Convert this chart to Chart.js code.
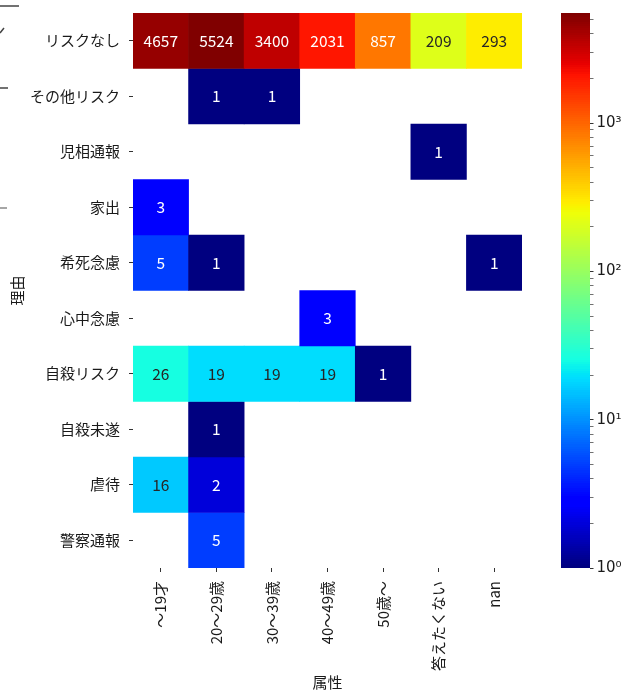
<!DOCTYPE html>
<html>
<head>
<meta charset="utf-8">
<script src="https://cdn.jsdelivr.net/npm/chart.js@4/dist/chart.umd.min.js"></script>
<style>
  html, body { margin: 0; padding: 0; background: #ffffff; }
</style>
</head>
<body>
<canvas id="heat" width="626" height="691"></canvas>
<script>
// Age groups (columns) and contact reasons (rows)
const ageGroups = ['〜19才', '20〜29歳', '30〜39歳', '40〜49歳', '50歳〜', '答えたくない', 'nan'];
const reasons = ['リスクなし', 'その他リスク', '児相通報', '家出', '希死念慮', '心中念慮', '自殺リスク', '自殺未遂', '虐待', '警察通報'];

// Counts per reason, one value per age group (null = no cases)
const noRisk        = [4657, 5524, 3400, 2031, 857, 209, 293];
const otherRisk     = [null, 1, 1, null, null, null, null];
const childWelfare  = [null, null, null, null, null, 1, null];
const runaway       = [3, null, null, null, null, null, null];
const deathWish     = [5, 1, null, null, null, null, 1];
const murderSuicide = [null, null, null, 3, null, null, null];
const suicideRisk   = [26, 19, 19, 19, 1, null, null];
const suicideTry    = [null, 1, null, null, null, null, null];
const abuse         = [16, 2, null, null, null, null, null];
const policeReport  = [null, 5, null, null, null, null, null];

const counts = [noRisk, otherRisk, childWelfare, runaway, deathWish,
                murderSuicide, suicideRisk, suicideTry, abuse, policeReport];

// Colour scale range (log) and its labelled decades
const scaleMin = 1;
const scaleMax = 5524;
const colorbarDecades = [1, 10, 100, 1000];

// ---- jet colour map ----
const jetSegments = {
  r: [[0, 0], [0.35, 0], [0.66, 1], [0.89, 1], [1, 0.5]],
  g: [[0, 0], [0.125, 0], [0.375, 1], [0.64, 1], [0.91, 0], [1, 0]],
  b: [[0, 0.5], [0.11, 1], [0.34, 1], [0.65, 0], [1, 0]]
};
function seg(points, t) {
  for (let i = 1; i < points.length; i++) {
    const [x0, y0] = points[i - 1], [x1, y1] = points[i];
    if (t <= x1) return y0 + (y1 - y0) * (t - x0) / (x1 - x0);
  }
  return points[points.length - 1][1];
}
function jet(t) {
  t = Math.max(0, Math.min(1, t));
  t = Math.min(255, Math.floor(t * 256)) / 255; // 256-level lookup
  return [seg(jetSegments.r, t), seg(jetSegments.g, t), seg(jetSegments.b, t)];
}
function norm(v) {
  return Math.log(v / scaleMin) / Math.log(scaleMax / scaleMin);
}
function rgbCss(c) {
  return 'rgb(' + c.map(x => Math.round(x * 255)).join(',') + ')';
}
function luminance(c) {
  const lin = c.map(x => x <= 0.03928 ? x / 12.92 : Math.pow((x + 0.055) / 1.055, 2.4));
  return 0.2126 * lin[0] + 0.7152 * lin[1] + 0.0722 * lin[2];
}

const baseFont = { family: "'Noto Sans CJK JP', 'Noto Sans', sans-serif", size: 15 };
const supDigits = ['⁰', '¹', '²', '³', '⁴', '⁵'];

// axes keep a fixed size and add no extra edge padding
function fixSize(w, h) {
  return s => {
    if (w != null) s.width = w;
    if (h != null) s.height = h;
    s.paddingTop = 0; s.paddingBottom = 0;
    s.paddingLeft = 0; s.paddingRight = 0;
  };
}

// one floating-bar dataset per reason row: each cell spans [row-0.5, row+0.5]
const datasets = counts.map((row, r) => ({
  label: reasons[r],
  data: row.map(v => v == null ? null : [r - 0.5, r + 0.5]),
  backgroundColor: row.map(v => v == null ? 'rgba(0,0,0,0)' : rgbCss(jet(norm(v)))),
  borderWidth: 0,
  borderSkipped: false
}));

// cell annotations
const cellLabels = {
  id: 'cellLabels',
  afterDatasetsDraw(chart) {
    const { ctx } = chart;
    const xs = chart.scales.x, ys = chart.scales.y;
    ctx.save();
    ctx.font = "15.5px 'Noto Sans CJK JP', 'Noto Sans', sans-serif";
    ctx.textAlign = 'center';
    ctx.textBaseline = 'middle';
    counts.forEach((row, r) => {
      row.forEach((v, c) => {
        if (v == null) return;
        const col = jet(norm(v));
        ctx.fillStyle = luminance(col) > 0.408 ? '#262626' : '#ffffff';
        ctx.fillText(String(v), xs.getPixelForValue(c), ys.getPixelForValue(r));
      });
    });
    ctx.restore();
  }
};

// colour bar drawn against the log scale 'cb'
const colorBar = {
  id: 'colorBar',
  afterDraw(chart) {
    const { ctx } = chart;
    const cb = chart.scales.cb;
    const barW = 29;
    const x0 = cb.left - barW;
    ctx.save();
    for (let y = Math.floor(cb.top); y < Math.ceil(cb.bottom); y++) {
      const v = cb.getValueForPixel(y + 0.5);
      ctx.fillStyle = rgbCss(jet(norm(v)));
      ctx.fillRect(x0, y, barW, 1);
    }
    ctx.restore();
  }
};

// short strokes along the left edge
const edgeStrokes = {
  id: 'edgeStrokes',
  afterDraw(chart) {
    const { ctx } = chart;
    ctx.save();
    ctx.strokeStyle = '#444';
    ctx.lineWidth = 1.5;
    ctx.beginPath();
    ctx.moveTo(0, 6); ctx.lineTo(19, 6);
    ctx.moveTo(0, 88); ctx.lineTo(8, 88);
    ctx.moveTo(0, 33); ctx.lineTo(4, 28);
    ctx.stroke();
    ctx.strokeStyle = '#888';
    ctx.beginPath();
    ctx.moveTo(0, 208); ctx.lineTo(7, 208);
    ctx.stroke();
    ctx.restore();
  }
};

function colorbarTickList() {
  const list = [];
  colorbarDecades.forEach(d => {
    for (let k = 1; k <= 9; k++) {
      const v = d * k;
      if (v <= scaleMax) list.push({ value: v, major: k === 1 });
    }
  });
  return list;
}

new Chart(document.getElementById('heat'), {
  type: 'bar',
  data: { labels: ageGroups, datasets },
  plugins: [colorBar, cellLabels, edgeStrokes],
  options: {
    responsive: false,
    animation: false,
    devicePixelRatio: 1,
    layout: { padding: { top: 13, left: 0, right: 0, bottom: 0 } },
    plugins: { legend: { display: false }, tooltip: { enabled: false } },
    datasets: { bar: { grouped: false, barPercentage: 1, categoryPercentage: 1 } },
    scales: {
      x: {
        type: 'category',
        offset: true,
        border: { display: false },
        grid: { drawOnChartArea: false, offset: false, tickLength: 4, tickColor: '#333', tickWidth: 1 },
        ticks: { minRotation: 90, maxRotation: 90, autoSkip: false, padding: 9, color: '#1a1a1a', font: baseFont },
        title: { display: true, text: '属性', color: '#1a1a1a', font: baseFont, padding: { top: 0, bottom: 0 } },
        afterFit: fixSize(null, 123)
      },
      y: {
        type: 'linear',
        reverse: true,
        min: -0.5,
        max: 9.5,
        border: { display: false },
        grid: { drawOnChartArea: false, tickLength: 4, tickColor: '#333', tickWidth: 1 },
        afterBuildTicks(s) { s.ticks = reasons.map((_, i) => ({ value: i })); },
        ticks: { autoSkip: false, padding: 9, color: '#1a1a1a', font: baseFont,
                 callback: v => reasons[v] },
        title: { display: true, text: '理由', color: '#1a1a1a', font: baseFont, padding: { top: 8, bottom: 0 } },
        afterFit: fixSize(133, null)
      },
      gap: {
        type: 'linear',
        position: 'right',
        weight: 0,
        border: { display: false },
        grid: { display: false },
        ticks: { display: false },
        afterFit: fixSize(68, null)
      },
      cb: {
        type: 'logarithmic',
        position: 'right',
        weight: 1,
        min: scaleMin,
        max: scaleMax,
        border: { display: false },
        grid: {
          drawOnChartArea: false,
          tickLength: 3.5,
          tickColor: '#333',
          tickWidth: ctx => (ctx.tick && ctx.tick.major) ? 1 : 0.7
        },
        afterBuildTicks(s) { s.ticks = colorbarTickList(); },
        ticks: {
          autoSkip: false,
          padding: 3,
          color: '#1a1a1a',
          font: { family: "'DejaVu Sans', sans-serif", size: 15 },
          callback: v => {
            const e = Math.round(Math.log10(v));
            return Math.abs(Math.pow(10, e) - v) < 1e-6 ? '10' + supDigits[e] : '';
          }
        },
        afterFit: fixSize(36, null)
      }
    }
  }
});
</script>
</body>
</html>
